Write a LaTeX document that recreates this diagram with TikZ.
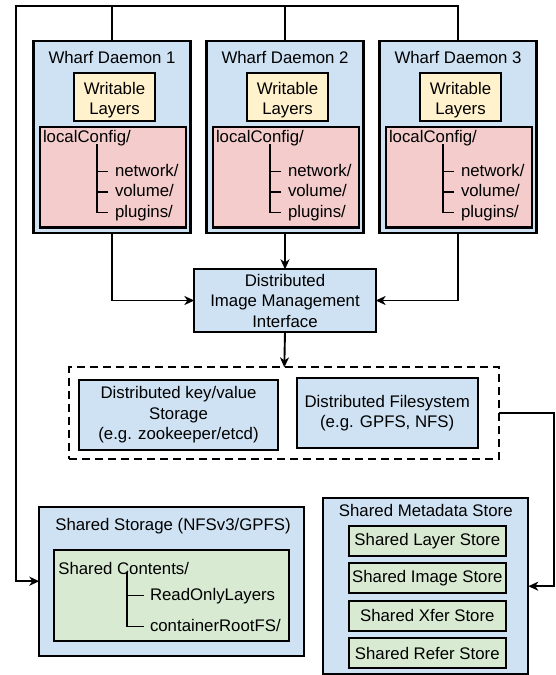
\documentclass[tikz,border=0pt]{standalone}
\usepackage{fontspec}
\setmainfont{Liberation Sans}
\usetikzlibrary{arrows.meta}
\definecolor{cblue}{HTML}{CFE2F3}
\definecolor{cyellow}{HTML}{FFF2CC}
\definecolor{cpink}{HTML}{F4CCCC}
\definecolor{cgreen}{HTML}{D9EAD3}
\tikzset{
 box/.style={draw=black, line width=2.2pt, inner sep=0pt, outer sep=0pt, align=center},
 bluebox/.style={box, fill=cblue},
 yellowbox/.style={box, fill=cyellow},
 pinkbox/.style={box, fill=cpink},
 greenbox/.style={box, fill=cgreen},
 dashbox/.style={draw=black, line width=2pt, dash pattern=on 8pt off 5pt, inner sep=0pt, outer sep=0pt},
 txt/.style={inner sep=0pt, outer sep=0pt, align=center},
 conn/.style={draw=black, line width=1.9pt},
 arr/.style={conn, -{Stealth[length=10pt,width=9pt,inset=3pt]}},
 tree/.style={draw=black, line width=1.9pt},
}
\begin{document}
\begin{tikzpicture}[x=1pt,y=-1pt,font=\fontsize{16.8}{20.5}\selectfont]
\useasboundingbox (0,0) rectangle (556,675);

% Wharf daemons
\foreach \i/\cx in {1/112,2/285,3/458}{
  \node[bluebox, minimum width=157pt, minimum height=192.6pt] (d\i) at (\cx,137) {};
  \node[txt, anchor=base] (dt\i) at (\cx,63.3) {Wharf Daemon \i};
  \node[yellowbox, minimum width=81pt, minimum height=47.4pt] (w\i) at (\cx+2.5,97) {};
  \node[txt] (wt\i) at (\cx+2.5,100) {Writable\\Layers};
  \node[pinkbox, minimum width=145.5pt, minimum height=100.8pt] (lc\i) at (\cx+1,177.1) {};
  \node[txt, anchor=base west] (lr\i) at (\cx-69,142.5) {localConfig/};
  \node[txt, anchor=base west] (la\i) at (\cx+3,176) {network/};
  \node[txt, anchor=base west] (lb\i) at (\cx+3,196.5) {volume/};
  \node[txt, anchor=base west] (lp\i) at (\cx+3,217) {plugins/};
  \coordinate (tt\i) at (\cx-15.3,144);
  \draw[tree] (tt\i) |- ([xshift=-6.7pt,yshift=4.5pt]lp\i.base west);
  \draw[tree] ([xshift=-6.7pt,yshift=4.5pt]la\i.base west) -- ++(-11.6,0);
  \draw[tree] ([xshift=-6.7pt,yshift=4.5pt]lb\i.base west) -- ++(-11.6,0);
}

% Distributed image management interface
\node[bluebox, minimum width=181.3pt, minimum height=62.4pt] (dimi) at (285,300.5) {Distributed\\Image Management\\Interface};

% dashed group
\node[dashbox, minimum width=430pt, minimum height=91.7pt] (dsh) at (284.3,413.2) {};
\node[bluebox, minimum width=198.4pt, minimum height=70pt] (kv) at (178.5,415) {Distributed key/value\\Storage\\(e.g. zookeeper/etcd)};
\node[bluebox, minimum width=181pt, minimum height=70pt] (df) at (387.2,413.3) {Distributed Filesystem\\(e.g. GPFS, NFS)};

% shared storage
\node[bluebox, minimum width=265pt, minimum height=149pt] (ss) at (171.8,581.2) {};
\node[txt, anchor=base] (sst) at (173,530) {Shared Storage (NFSv3/GPFS)};
\node[greenbox, minimum width=235.3pt, minimum height=91pt] (sc) at (171.7,595.5) {};
\node[txt, anchor=base west] (sct) at (58.3,574) {Shared Contents/};
\node[txt, anchor=base west] (sc1) at (150,600) {ReadOnlyLayers};
\node[txt, anchor=base west] (sc2) at (150,631) {containerRootFS/};
\coordinate (st) at (127.3,572);
\draw[tree] (st) |- ([xshift=-6pt,yshift=4.5pt]sc2.base west);
\draw[tree] ([xshift=-6pt,yshift=4.5pt]sc1.base west) -- ++(-16.7,0);

% shared metadata store
\node[bluebox, minimum width=205pt, minimum height=175.7pt] (meta) at (425.8,586.2) {};
\node[txt, anchor=base] (mt) at (425.8,516.5) {Shared Metadata Store};
\node[greenbox, minimum width=156.7pt, minimum height=30pt] (m1) at (427.3,541) {Shared Layer Store};
\node[greenbox, minimum width=156.7pt, minimum height=30pt] (m2) at (427.3,578.3) {Shared Image Store};
\node[greenbox, minimum width=156.7pt, minimum height=30pt] (m3) at (427.3,615.7) {Shared Xfer Store};
\node[greenbox, minimum width=156.7pt, minimum height=30pt] (m4) at (427.3,653) {Shared Refer Store};

% connectors
\coordinate (busL) at (15.7,5.7);
\coordinate (dfR) at (554.3,0);
\draw[conn] (d1.north) -- (d1.north |- busL);
\draw[conn] (d2.north) -- (d2.north |- busL);
\draw[arr] (d3.north) |- (busL) |- (ss.west);
\draw[arr] (d1.south) |- (dimi.west);
\draw[arr] (d2.south) -- (dimi.north);
\draw[arr] (d3.south) |- (dimi.east);
\draw[arr] (dimi.south) -- (dsh.north);
\draw[arr] (dsh.east) -- (dsh.east -| dfR) |- (meta.east);
\end{tikzpicture}
\end{document}
